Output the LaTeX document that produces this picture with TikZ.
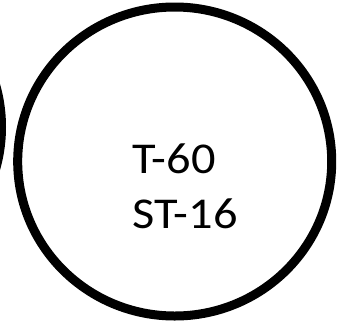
\documentclass[tikz,border=0pt]{standalone}
\usepackage{fontspec}
\setmainfont{Carlito}
\newfontfamily\tagfont[FakeStretch=1.1]{Carlito}
\usetikzlibrary{shapes.geometric}

\begin{document}
\begin{tikzpicture}[
    x=1pt, y=-1pt,
    ring/.style = {draw, ellipse, line width=9pt, minimum width=314pt, minimum height=309pt, inner sep=0pt},
    tag/.style = {font=\tagfont\fontsize{44}{55}\selectfont, align=left, inner sep=0pt}
]

    % Cadre
    \clip (0,0) rectangle (347,327);

    % Les cercles
    \node[ring] (prev) at (-155.5,127) {};
    \node[ring] (t60) at (174.7,161.5) {};

    % Texte
    \node[tag, anchor=base west] (name) at (132,228) {T-60\\ST-16};

\end{tikzpicture}
\end{document}
